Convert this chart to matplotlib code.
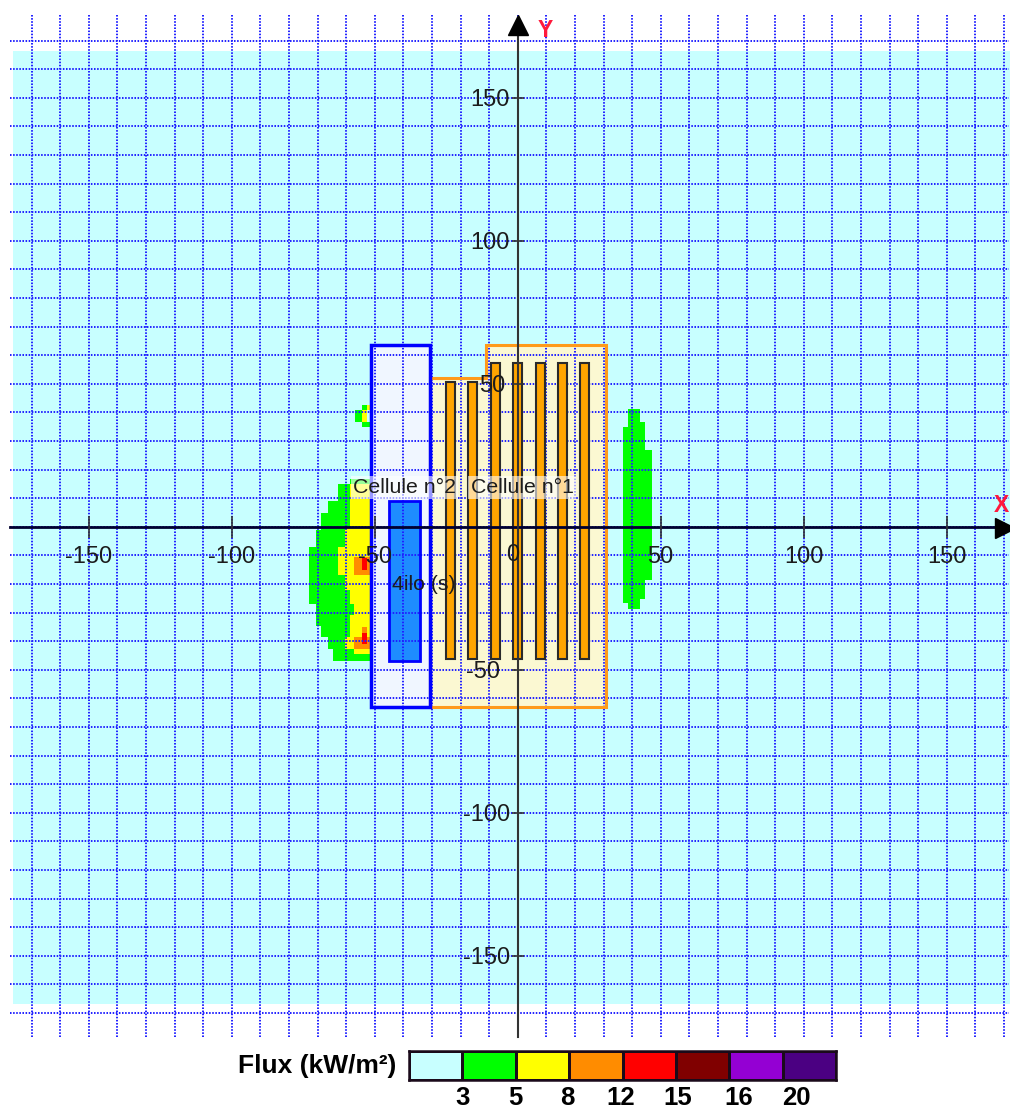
from __future__ import annotations

import matplotlib
matplotlib.use("Agg")
import matplotlib.pyplot as plt
import numpy as np
from matplotlib.colors import ListedColormap
from matplotlib.patches import Polygon, Rectangle
from matplotlib.transforms import ScaledTranslation

# y_top, y_bottom, x_left, x_right, all in metres
GREEN_LEFT = [
    (16.7, 15.0, -58.6, -51.3),
    (15.0, 9.0, -62.8, -51.3),
    (9.0, 4.8, -66.3, -51.3),
    (4.8, -1.1, -68.8, -51.3),
    (-1.1, -7.1, -70.5, -51.3),
    (-7.1, -27.0, -73.0, -51.3),
    (-27.0, -34.7, -70.5, -51.3),
    (-34.7, -38.6, -68.8, -51.3),
    (-38.6, -42.8, -66.3, -51.3),
    (-42.8, -47.0, -64.6, -51.3),
]
GREEN_TOP = [
    (42.6, 40.8, -54.4, -52.7),
    (40.8, 36.6, -56.9, -54.4),
    (36.6, 34.9, -54.4, -51.3),
]
GREEN_RIGHT = [
    (41.2, 36.6, 38.6, 42.8),
    (36.6, 34.9, 38.6, 44.5),
    (34.9, 26.9, 36.8, 44.5),
    (26.9, -18.6, 36.8, 47.0),
    (-18.6, -25.3, 36.8, 44.5),
    (-25.3, -26.7, 36.8, 42.8),
    (-26.7, -28.8, 38.6, 42.8),
]
YELLOW_LEFT = [
    (15.0, 0.0, -58.6, -51.3),
    (0.0, -7.1, -60.4, -51.3),
    (-7.1, -17.0, -62.8, -51.3),
    (-17.0, -22.0, -60.4, -51.3),
    (-22.0, -27.0, -58.6, -51.3),
    (-27.0, -31.0, -57.2, -51.3),
    (-31.0, -38.6, -58.6, -51.3),
    (-38.6, -42.8, -60.4, -51.3),
    (-42.8, -44.5, -57.2, -51.3),
]
YELLOW_TOP = [
    (42.6, 40.8, -52.7, -51.3),
    (40.8, 36.6, -54.4, -52.7),
]
ORANGE_ZONES = [
    (-10.6, -16.8, -57.2, -51.3),
    (-38.6, -42.8, -57.2, -51.3),
    (-35.0, -38.6, -54.4, -52.7),
]
RED_ZONES = [
    (-10.9, -15.1, -54.4, -52.7),
    (-37.0, -41.0, -54.4, -52.7),
]

CELL_OUTLINE_X = [-30.7, -11.1, -11.1, 30.9, 30.9, -30.7]
CELL_OUTLINE_Y = [52.0, 52.0, 63.6, 63.6, -63.0, -63.0]
SILO_FRAME = (-51.3, -30.7, -63.0, 63.6)
SILO_CORE = (-45.0, -34.2, -47.0, 9.0)
STRIPE_LEFT = [-25.0, -17.4, -9.5, -1.7, 6.5, 14.2, 21.8]
STRIPE_TOP = [50.8, 50.8, 57.2, 57.2, 57.2, 57.2, 57.2]
STRIPE_BOTTOM = -46.2
STRIPE_WIDTH = 3.2

X_TICKS = [-150, -100, -50, 0, 50, 100, 150]
Y_TICKS = [-150, -100, -50, 50, 100, 150]
FLUX_COLORS = ["#c8ffff", "#00ff00", "#ffff00", "#ff8c00", "#ff0000", "#800000", "#9400d3", "#4b0082"]
FLUX_LABELS = ["3", "5", "8", "12", "15", "16", "20"]

W, H = 1010, 1108
X0, Y0, SCALE = 517.7, 526.8, 2.86


def draw_rows(ax, rows, color, z=2):
    for top, bottom, left, right in rows:
        ax.add_patch(Rectangle((left, bottom), right - left, top - bottom, fc=color, ec="none", zorder=z))


def main():
    plt.rcParams["font.family"] = ["Liberation Sans", "DejaVu Sans"]
    fig = plt.figure(figsize=(W / 100, H / 100), dpi=100)
    ax = fig.add_axes([0, 0, 1, 1])
    ax.set_xlim(-X0 / SCALE, (W - X0) / SCALE)
    ax.set_ylim((Y0 - H) / SCALE, Y0 / SCALE)
    for name in ["top", "right"]:
        ax.spines[name].set_visible(False)
    ax.patch.set_alpha(0)

    # background flux level
    ax.add_patch(Rectangle((-176.5, -166.8), 360, 333.3, fc=FLUX_COLORS[0], ec="none", zorder=1))

    # buildings
    cell = np.column_stack([CELL_OUTLINE_X, CELL_OUTLINE_Y])
    ax.add_patch(Polygon(cell, closed=True, fc="#fbf8d2", ec="none", zorder=1.5))
    ax.add_patch(Polygon(cell, closed=True, fc="none", ec="#ff9a1a", lw=2.2, zorder=5))

    draw_rows(ax, GREEN_LEFT + GREEN_TOP + GREEN_RIGHT, FLUX_COLORS[1])
    draw_rows(ax, YELLOW_LEFT + YELLOW_TOP, FLUX_COLORS[2], z=2.1)
    draw_rows(ax, ORANGE_ZONES, FLUX_COLORS[3], z=2.2)
    draw_rows(ax, RED_ZONES, FLUX_COLORS[4], z=2.3)

    x1, x2, y1, y2 = SILO_FRAME
    ax.add_patch(Rectangle((x1, y1), x2 - x1, y2 - y1, fc="#f0f6ff", ec="none", zorder=2.5))
    x1c, x2c, y1c, y2c = SILO_CORE
    ax.add_patch(Rectangle((x1c, y1c), x2c - x1c, y2c - y1c, fc="#1e8cff", ec="none", zorder=2.6))

    # grid goes over the fills but under the outlines
    grid = np.arange(-170, 171, 10)
    dots = (0, (0.8, 0.8))
    ax.vlines(grid, -178.5, 179.3, color="#2020ff", lw=1.4, ls=dots, zorder=3)
    ax.hlines(grid, -177.5, 171.7, color="#2020ff", lw=1.4, ls=dots, zorder=3)

    for left, top in zip(STRIPE_LEFT, STRIPE_TOP):
        ax.add_patch(Rectangle((left, STRIPE_BOTTOM), STRIPE_WIDTH, top - STRIPE_BOTTOM,
                               fc="#ffa500", ec="#2a2a2a", lw=1.5, zorder=4))
    ax.add_patch(Rectangle((x1c, y1c), x2c - x1c, y2c - y1c, fc="none", ec="#0000ff", lw=2.0, zorder=5))
    ax.add_patch(Rectangle((x1, y1), x2 - x1, y2 - y1, fc="none", ec="#0000ff", lw=2.5, zorder=5.1))

    # axes through the origin
    ax.spines["bottom"].set_position("zero")
    ax.spines["left"].set_position("zero")
    ax.spines["bottom"].set_bounds(-177.5, 168)
    ax.spines["left"].set_bounds(-178.5, 172)
    ax.spines["bottom"].set_color("#000030")
    ax.spines["bottom"].set_linewidth(2.0)
    ax.spines["left"].set_color("#333333")
    ax.spines["left"].set_linewidth(1.5)
    ax.spines["bottom"].set_zorder(6)
    ax.spines["left"].set_zorder(6)
    ax.set_xticks(X_TICKS)
    ax.set_xticklabels([str(v) if v else "" for v in X_TICKS])
    ax.set_yticks(Y_TICKS)
    ax.set_yticklabels([str(v) for v in Y_TICKS])
    ax.tick_params(axis="x", direction="inout", length=16, width=1.2, color="#333333", labelsize=17, pad=6, labelcolor="#1c1c1c")
    ax.tick_params(axis="y", direction="inout", length=8, width=1.2, color="#333333", labelsize=17, pad=1.5, labelcolor="#1c1c1c")
    ax.xaxis.set_zorder(7)
    ax.yaxis.set_zorder(7)
    # the 50 labels sit further from the axis than the others
    for lab, value in zip(ax.get_yticklabels(), Y_TICKS):
        if abs(value) == 50:
            shift = -3.6 if value > 0 else -7.0
            lab.set_transform(lab.get_transform() + ScaledTranslation(shift / 72, 0, fig.dpi_scale_trans))
    ax.text(-1.9, -10, "0", fontsize=17, color="#1c1c1c", ha="center", va="center", zorder=7)

    ax.plot([0], [175.5], marker="^", ms=15, color="black", clip_on=False, zorder=7)
    ax.plot([170.5], [-0.5], marker=">", ms=15, color="black", clip_on=False, zorder=7)
    ax.text(9.5, 173.5, "Y", color="#ff1a3c", fontsize=16.5, fontweight="bold", ha="center", va="center", zorder=7)
    ax.text(169, 7.5, "X", color="#ff1a3c", fontsize=16.5, fontweight="bold", ha="center", va="center", zorder=7)

    box = dict(fc="white", ec="none", alpha=0.6, pad=1.5)
    ax.text(-39.6, 13.8, "Cellule n°2", fontsize=15.3, color="#1c1c1c", ha="center", va="center", bbox=box, zorder=8)
    ax.text(1.5, 13.8, "Cellule n°1", fontsize=15.3, color="#1c1c1c", ha="center", va="center", bbox=box, zorder=8)
    ax.text(-32.8, -20, "4ilo (s)", fontsize=15.3, color="#1c1c1c", ha="center", va="center", zorder=8)

    # flux legend
    cax = fig.add_axes([409 / W, 1 - 1080 / H, 427 / W, 29 / H])
    levels = np.arange(len(FLUX_COLORS) + 1)
    cax.pcolormesh(levels, [0, 1], [np.arange(len(FLUX_COLORS))], cmap=ListedColormap(FLUX_COLORS),
                   edgecolors="#1a0a1a", linewidth=1.0)
    cax.set_yticks([])
    # labels drift right of the colour boundaries towards the high end
    cax.set_xticks(levels[1:-1] + np.array([0, 0, -0.03, -0.04, 0.04, 0.17, 0.26]))
    cax.set_xticklabels(FLUX_LABELS, fontsize=18.5, fontweight="bold")
    cax.tick_params(axis="x", length=0, pad=4.5)
    cax.set_xlim(levels[0], levels[-1])
    for spine in cax.spines.values():
        spine.set_linewidth(1.8)
        spine.set_color("#1a0a1a")
    fig.text(396 / W, 1 - 1066 / H, "Flux (kW/m²)", fontsize=19, fontweight="bold", ha="right", va="center")

    fig.savefig("out.png", dpi=100)
    plt.close(fig)


if __name__ == "__main__":
    main()
